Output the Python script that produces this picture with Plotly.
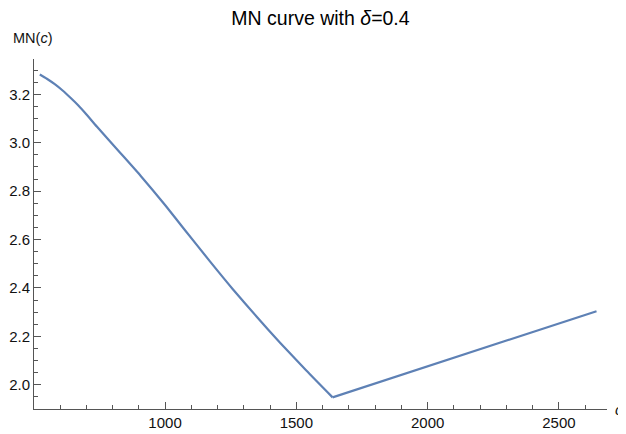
import plotly.graph_objects as go

c_vals = [523, 550, 580, 610, 640, 670, 700, 741, 829, 907.5, 1000, 1068.5, 1171, 1259, 1350, 1438, 1537, 1638, 2643]
mn_vals = [3.282, 3.2645, 3.242, 3.216, 3.186, 3.154, 3.118, 3.066, 2.959, 2.863, 2.743, 2.649, 2.510, 2.394, 2.280, 2.174, 2.060, 1.948, 2.304]

x_ticks = [1000, 1500, 2000, 2500]
y_ticks = [2.0, 2.2, 2.4, 2.6, 2.8, 3.0, 3.2]

kink = mn_vals.index(min(mn_vals))

fig = go.Figure()
# smooth falling branch up to the minimum
fig.add_trace(go.Scatter(x=c_vals[:kink + 1], y=mn_vals[:kink + 1], mode="lines",
                         line=dict(color="#5E81B5", width=2.2, shape="spline", smoothing=0.6),
                         showlegend=False))
# straight rising branch after the minimum
fig.add_trace(go.Scatter(x=c_vals[kink:], y=mn_vals[kink:], mode="lines",
                         line=dict(color="#5E81B5", width=2.2),
                         showlegend=False))

font = "Liberation Sans, Arial, sans-serif"
axcol = "#555555"
# page body has an 8px default margin, so the figure is sized to the visible area
fig.update_layout(
    width=618, height=426,
    margin=dict(l=26, r=19, t=51, b=25, autoexpand=False),
    paper_bgcolor="white", plot_bgcolor="white",
    font=dict(family=font, size=15, color="#000"),
    title=dict(text="MN curve with <i>δ</i>=0.4", x=0.5, xref="paper", xanchor="center",
               yref="container", y=1, yanchor="top", pad=dict(t=3),
               font=dict(family=font, size=19.5, color="#000")),
    xaxis=dict(range=[501, 2683], tickvals=x_ticks, showgrid=False, zeroline=False, automargin=False,
               showline=True, linecolor=axcol, linewidth=1,
               ticks="inside", ticklen=7, tickcolor=axcol, tickwidth=1,
               minor=dict(dtick=100, tick0=0, ticks="inside", ticklen=4, tickcolor=axcol, showgrid=False),
               tickfont=dict(size=15, color="#111")),
    yaxis=dict(range=[1.90, 3.346], tickvals=y_ticks, tickformat=".1f", showgrid=False, zeroline=False,
               automargin=False,
               showline=True, linecolor=axcol, linewidth=1,
               ticks="inside", ticklen=7, tickcolor=axcol, tickwidth=1,
               minor=dict(dtick=0.05, tick0=0, ticks="inside", ticklen=4, tickcolor=axcol, showgrid=False),
               tickfont=dict(size=15, color="#111")),
    annotations=[
        dict(text="MN(<i>c</i>)", xref="paper", yref="paper", x=0, y=1, xshift=-23, yshift=11,
             xanchor="left", yanchor="bottom", showarrow=False, font=dict(family=font, size=14.5, color="#111")),
        dict(text="<i>c</i>", xref="paper", yref="paper", x=1, y=0, xshift=6,
             xanchor="left", yanchor="middle", showarrow=False, font=dict(family=font, size=15, color="#111")),
    ],
)
fig.write_html("out.html")
